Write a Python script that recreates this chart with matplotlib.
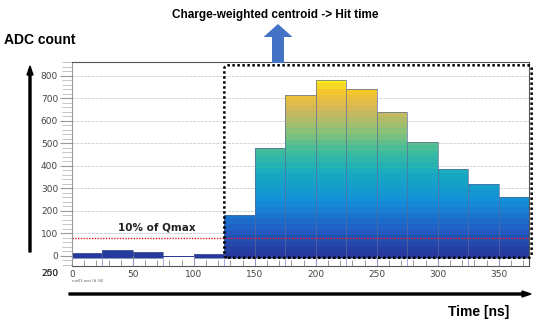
import numpy as np
import matplotlib.pyplot as plt
from matplotlib.colors import LinearSegmentedColormap
from matplotlib.patches import FancyBboxPatch, FancyArrow
from matplotlib.ticker import MultipleLocator

# histogram: 25 ns bins, ADC counts
bin_edges = np.arange(0, 400, 25)
adc_counts = [15, 26, 16, -3, 10, 180, 480, 717, 782, 743, 641, 507, 387, 321, 262]
threshold = 0.1 * max(adc_counts)
x_ticks = [0, 50, 100, 150, 200, 250, 300, 350]
y_ticks = [0, 100, 200, 300, 400, 500, 600, 700, 800]

cmap = LinearSegmentedColormap.from_list('grad', [
    (0.0, '#263a9e'), (0.15, '#1f62c8'), (0.3, '#1390d8'), (0.45, '#18aac0'),
    (0.58, '#3dbd9c'), (0.7, '#8fc075'), (0.82, '#d4b65a'), (0.92, '#f6c72c'),
    (1.0, '#faf516')])

fig = plt.figure(figsize=(5.45, 3.33), dpi=100)
ax = fig.add_axes([0.132, 0.201, 0.839, 0.613])
ax.set_xlim(0, 375)
ax.set_ylim(-45, 862)

# gradient bars drawn as horizontal bands
band = 25
lefts = bin_edges[:-1]
vmax = max(adc_counts)
for x0, v in zip(lefts, adc_counts):
    if v <= 0:
        ax.bar(x0, v - 3, bottom=0, width=25, align='edge', color=cmap(0.0), linewidth=0)
        continue
    levels = np.arange(-8, v, band)
    for lo in levels:
        hi = min(lo + band, v)
        ax.bar(x0, hi - lo, bottom=lo, width=25, align='edge',
               color=cmap(max(lo, 0) / vmax), linewidth=0)
    ax.bar(x0, v + 8, bottom=-8, width=25, align='edge', fill=False,
           edgecolor='#5a6a9a', linewidth=0.7, alpha=0.7)

# bin edge lines under the bars
for x0 in lefts[1:]:
    ax.vlines(x0, -45, -8, color='#9a9ae0', linewidth=0.6)

ax.axhline(threshold, color='#e02020', linestyle=(0, (1, 1)), linewidth=1.0)
ax.text(70, 126, '10% of Qmax', ha='center', va='center', fontsize=7.5,
        fontweight='bold', color='#222222')

for y in y_ticks:
    ax.axhline(y, color='#d4d4d4', linestyle=(0, (3, 1)), linewidth=0.7, zorder=0)

box = FancyBboxPatch((125, -8), 252, 855, boxstyle='round,pad=0,rounding_size=3',
                     mutation_aspect=5.4, fill=False, edgecolor='black',
                     linestyle=(0, (1, 1)), linewidth=1.8, clip_on=False, zorder=5)
ax.add_patch(box)

ax.set_xticks(x_ticks)
ax.set_yticks(y_ticks)
ax.xaxis.set_minor_locator(MultipleLocator(10))
ax.yaxis.set_minor_locator(MultipleLocator(20))
ax.tick_params(axis='x', which='both', direction='in', length=4, color='#888888',
               labelsize=6.5, labelcolor='#444444', pad=3)
ax.tick_params(axis='x', which='major', length=7)
ax.tick_params(axis='y', which='major', direction='out', length=9, color='#999999',
               labelsize=6.5, labelcolor='#444444', pad=1)
ax.tick_params(axis='y', which='minor', direction='out', length=7, color='#bbbbbb')
for side in ['top', 'right', 'bottom']:
    ax.spines[side].set_color('#555555')
    ax.spines[side].set_linewidth(0.8)
ax.spines['left'].set_color('#999999')

# overlapping stray labels below the axis
fig.text(50, 60, '200', transform=None, fontsize=6.5, color='#333333', ha='center', va='center')
fig.text(50, 60, '250', transform=None, fontsize=6.5, color='#333333', ha='center', va='center')
fig.text(72, 51, 'run03.root (# 34)', transform=None, fontsize=2.5, color='#555555')

# axis arrows and labels
fig.patches.append(FancyArrow(0.30, 0.81, 0, 1.86, width=0.02, head_width=0.06, head_length=0.09,
                              length_includes_head=True, color='black',
                              transform=fig.dpi_scale_trans, figure=fig))
fig.patches.append(FancyArrow(0.69, 0.39, 4.62, 0, width=0.02, head_width=0.06, head_length=0.09,
                              length_includes_head=True, color='black',
                              transform=fig.dpi_scale_trans, figure=fig))
fig.patches.append(FancyArrow(2.78, 2.70, 0, 0.39, width=0.12, head_width=0.29, head_length=0.13,
                              length_includes_head=True, color='#4472C4', linewidth=0,
                              transform=fig.dpi_scale_trans, figure=fig))

fig.text(0.505, 0.955, 'Charge-weighted centroid -> Hit time', ha='center', va='center',
         fontsize=8.5, fontweight='bold', family='Liberation Sans')
fig.text(0.008, 0.88, 'ADC count', ha='left', va='center', fontsize=10,
         fontweight='bold', family='Liberation Sans')
fig.text(0.822, 0.063, 'Time [ns]', ha='left', va='center', fontsize=10,
         fontweight='bold', family='Liberation Sans')

plt.savefig('out.png', dpi=100)
plt.close()
